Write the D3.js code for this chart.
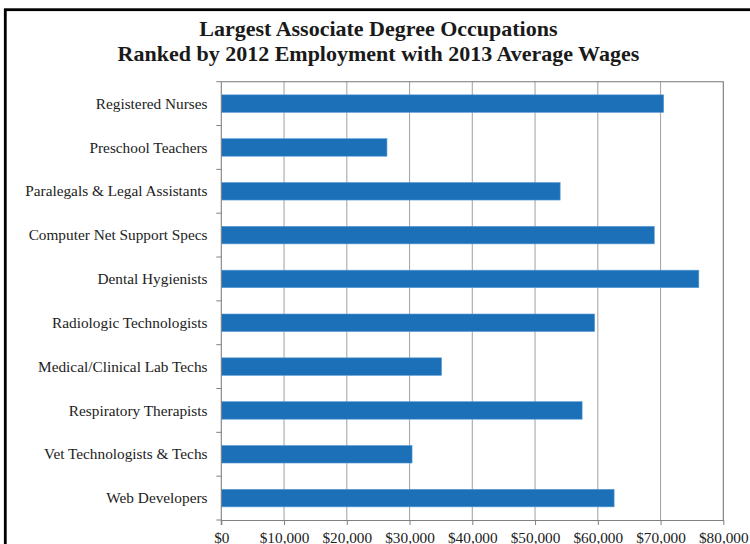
<!DOCTYPE html>
<html>
<head>
<meta charset="utf-8">
<script src="https://cdn.jsdelivr.net/npm/d3@7"></script>
<style>
  html, body { margin: 0; padding: 0; background: #fff; }
  svg { display: block; }
</style>
</head>
<body>
<div id="chart"></div>
<script>
const titleLines = ["Largest Associate Degree Occupations", "Ranked by 2012 Employment with 2013 Average Wages"];
const occupations = [
  "Registered Nurses",
  "Preschool Teachers",
  "Paralegals & Legal Assistants",
  "Computer Net Support Specs",
  "Dental Hygienists",
  "Radiologic Technologists",
  "Medical/Clinical Lab Techs",
  "Respiratory Therapists",
  "Vet Technologists & Techs",
  "Web Developers"
];
const avgWages = [70500, 26400, 54000, 69000, 76100, 59500, 35100, 57500, 30400, 62600];
const xTickValues = [0, 10000, 20000, 30000, 40000, 50000, 60000, 70000, 80000];

const W = 750, H = 544;
const plot = { left: 221.3, right: 723.3, top: 81.7, bottom: 520 };
const serif = "'Liberation Serif', 'Times New Roman', Times, serif";

const svg = d3.select("#chart").append("svg").attr("width", W).attr("height", H);

// outer frame
svg.append("rect")
  .attr("x", 5.3).attr("y", 9.7)
  .attr("width", W + 20).attr("height", H + 20)
  .attr("fill", "none").attr("stroke", "#000").attr("stroke-width", 2.8);

// title
const title = svg.append("text")
  .attr("text-anchor", "middle")
  .attr("font-family", serif)
  .attr("font-weight", "bold")
  .attr("font-size", 22)
  .attr("fill", "#1a1a1a");
title.selectAll("tspan").data(titleLines).join("tspan")
  .attr("x", 378.4)
  .attr("y", (d, i) => 35.5 + i * 25)
  .text(d => d);

const x = d3.scaleLinear().domain([0, 80000]).range([plot.left, plot.right]);
const y = d3.scaleBand().domain(occupations).range([plot.top, plot.bottom]).paddingInner(0.6).paddingOuter(0.3);
const yEdge = d3.scaleLinear().domain([0, occupations.length]).range([plot.top, plot.bottom]);

// gridlines
svg.append("g").selectAll("line").data(xTickValues.slice(1, -1)).join("line")
  .attr("x1", d => x(d)).attr("x2", d => x(d))
  .attr("y1", plot.top).attr("y2", plot.bottom)
  .attr("stroke", "#a8a8a8").attr("stroke-width", 1.1);

// plot border (top & right)
svg.append("path")
  .attr("d", `M${plot.left},${plot.top}H${plot.right}V${plot.bottom}`)
  .attr("fill", "none").attr("stroke", "#777").attr("stroke-width", 1.1);

// bars
svg.append("g").selectAll("rect").data(occupations).join("rect")
  .attr("x", x(0))
  .attr("y", d => y(d))
  .attr("width", (d, i) => x(avgWages[i]) - x(0))
  .attr("height", y.bandwidth())
  .attr("fill", "#1b70b7")
  .attr("stroke", "#5b9bd5").attr("stroke-width", 0.6);

// x axis
const xAxis = d3.axisBottom(x)
  .tickValues(xTickValues)
  .tickFormat(d => d === 0 ? "$0" : "$" + d3.format(",")(d))
  .tickSize(5).tickSizeOuter(0).tickPadding(7);
const gx = svg.append("g").attr("transform", `translate(0,${plot.bottom})`).call(xAxis);
gx.select(".domain").attr("stroke", "#808080").attr("stroke-width", 1.1);
gx.selectAll(".tick line").attr("stroke", "#808080");
gx.selectAll(".tick text")
  .attr("font-family", serif).attr("font-size", 15.3).attr("fill", "#222");

// y axis line
svg.append("line")
  .attr("x1", plot.left).attr("x2", plot.left)
  .attr("y1", plot.top).attr("y2", plot.bottom + 5)
  .attr("stroke", "#808080").attr("stroke-width", 1.1);

// y boundary ticks
svg.append("g").selectAll("line").data(d3.range(occupations.length + 1)).join("line")
  .attr("x1", plot.left - 5).attr("x2", plot.left)
  .attr("y1", d => yEdge(d)).attr("y2", d => yEdge(d))
  .attr("stroke", "#808080").attr("stroke-width", 1);

// y labels
svg.append("g").selectAll("text").data(occupations).join("text")
  .attr("x", 207.5)
  .attr("y", d => y(d) + y.bandwidth() / 2)
  .attr("dy", "0.34em")
  .attr("text-anchor", "end")
  .attr("font-family", serif).attr("font-size", 15.3).attr("fill", "#222")
  .text(d => d);
</script>
</body>
</html>
